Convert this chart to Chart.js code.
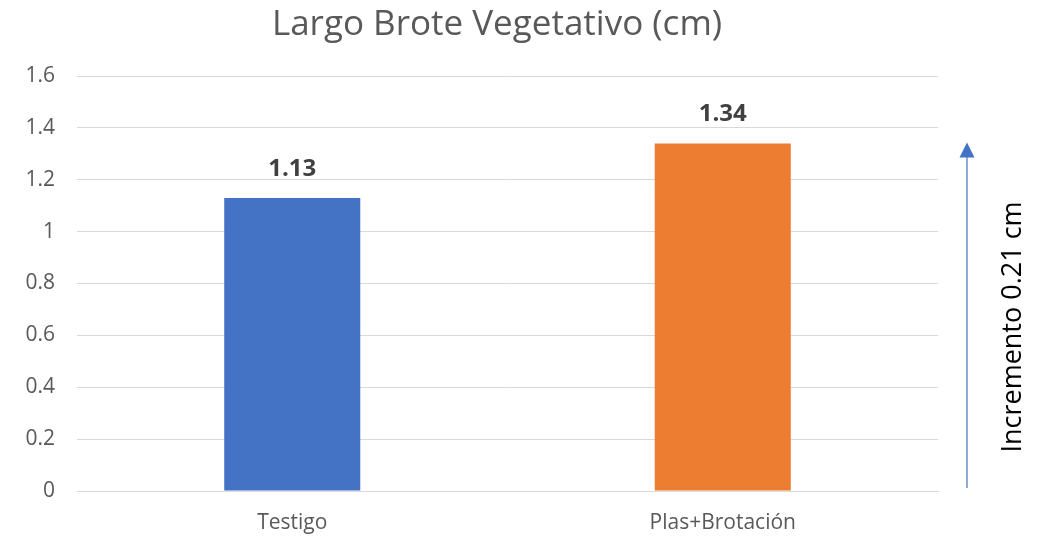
<!DOCTYPE html>
<html>
<head>
<meta charset="utf-8">
<script src="https://cdn.jsdelivr.net/npm/chart.js@4/dist/chart.umd.min.js"></script>
<style>
  html, body { margin: 0; padding: 0; background: #fff; }
  #wrap { width: 1044px; height: 540px; }
</style>
</head>
<body>
<div id="wrap"><canvas id="chart" width="1044" height="540"></canvas></div>
<script>
"use strict";

const categories = ["Testigo", "Plas+Brotación"];
const largoBrote = [1.13, 1.34];
const barColors = ["#4472c4", "#ed7d31"];
const yTicks = [0, 0.2, 0.4, 0.6, 0.8, 1, 1.2, 1.4, 1.6];
const titleText = "Largo Brote Vegetativo (cm)";
const arrowText = "Incremento 0.21 cm";

const FONT = "'Open Sans', 'Noto Sans', sans-serif";

// Título, etiquetas de datos y flecha de incremento
const extras = {
  id: "extras",
  afterDraw(chart) {
    const ctx = chart.ctx;
    const y = chart.scales.y;
    ctx.save();

    ctx.fillStyle = "#595959";
    ctx.font = `35px ${FONT}`;
    ctx.textAlign = "center";
    ctx.textBaseline = "middle";
    ctx.fillText(titleText, 497, 25);

    // etiquetas sobre barras
    const meta = chart.getDatasetMeta(0);
    ctx.fillStyle = "#404040";
    ctx.font = `bold 24px ${FONT}`;
    meta.data.forEach((bar, i) => {
      ctx.fillText(largoBrote[i].toFixed(2), bar.x, bar.y - 29);
    });

    // flecha
    const ax = 967;
    const yBottom = y.getPixelForValue(0) - 3;
    const yTip = y.getPixelForValue(1.34) - 1;
    ctx.strokeStyle = "#4472c4";
    ctx.fillStyle = "#4472c4";
    ctx.lineWidth = 1.2;
    ctx.beginPath();
    ctx.moveTo(ax, yBottom);
    ctx.lineTo(ax, yTip + 14);
    ctx.stroke();
    ctx.beginPath();
    ctx.moveTo(ax, yTip);
    ctx.lineTo(ax - 7.5, yTip + 15);
    ctx.lineTo(ax + 7.5, yTip + 15);
    ctx.closePath();
    ctx.fill();

    // texto vertical
    ctx.translate(1013, 327);
    ctx.rotate(-Math.PI / 2);
    ctx.fillStyle = "#000";
    ctx.font = `27px ${FONT}`;
    ctx.fillText(arrowText, 0, 0);
    ctx.restore();
  },
};

new Chart(document.getElementById("chart"), {
  type: "bar",
  data: {
    labels: categories,
    datasets: [
      {
        data: largoBrote,
        backgroundColor: barColors,
        borderWidth: 0,
        categoryPercentage: 1,
        barPercentage: 0.316,
      },
    ],
  },
  options: {
    responsive: false,
    animation: false,
    events: [],
    layout: { padding: { top: 76, right: 106, left: 0, bottom: 0 } },
    plugins: { legend: { display: false }, tooltip: { enabled: false } },
    scales: {
      x: {
        grid: { display: false, drawTicks: false },
        border: { display: true, color: "#d9d9d9", width: 1 },
        ticks: { color: "#595959", font: { family: FONT, size: 21 }, padding: 19 },
        afterFit: (s) => { s.height = 49; },
      },
      y: {
        min: 0,
        max: 1.6,
        afterBuildTicks: (s) => { s.ticks = yTicks.map((v) => ({ value: v })); },
        grid: { color: "#d9d9d9", drawTicks: false },
        border: { display: false },
        ticks: {
          color: "#595959",
          font: { family: FONT, size: 21 },
          padding: 22,
          callback: (v) => String(v),
        },
        afterFit: (s) => { s.width = 77; },
      },
    },
  },
  plugins: [extras],
});
</script>
</body>
</html>
